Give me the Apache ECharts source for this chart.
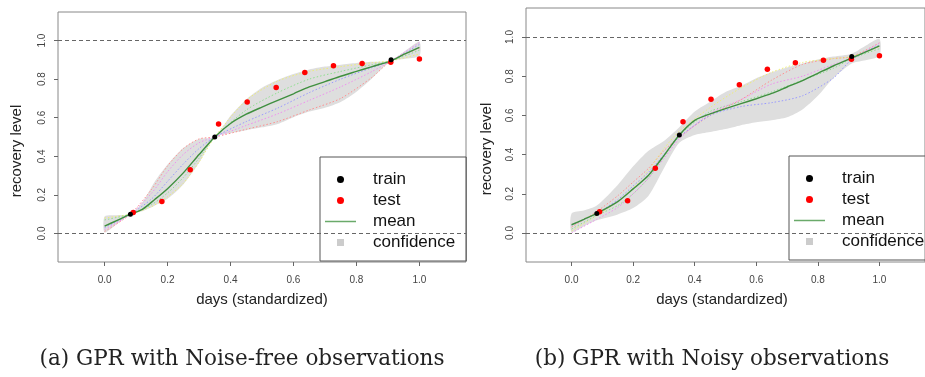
<!DOCTYPE html>
<html>
<head>
<meta charset="utf-8">
<script src="https://cdn.jsdelivr.net/npm/echarts@6/dist/echarts.min.js"></script>
<style>
  html, body { margin: 0; padding: 0; background: #fff; }
  #chart { width: 925px; height: 377px; }
</style>
</head>
<body>
<div id="chart"></div>
<script>
// ticks (same on both axes, both panels)
var tickValues = [0, 0.2, 0.4, 0.6, 0.8, 1.0];
var tickLabels = ['0.0', '0.2', '0.4', '0.6', '0.8', '1.0'];

// observations
var trainX = [0.082, 0.35, 0.91];
var trainY = [0.1, 0.5, 0.9];
var testX = [0.091, 0.182, 0.272, 0.362, 0.453, 0.545, 0.636, 0.727, 0.818, 0.909, 1.0];
var testY = [0.108, 0.165, 0.33, 0.567, 0.682, 0.756, 0.835, 0.869, 0.881, 0.887, 0.904];

// (a) noise-free: mean and confidence band
var leftX     = [0, 0.04, 0.082, 0.12, 0.16, 0.2, 0.25, 0.3, 0.35, 0.4, 0.45, 0.5, 0.55, 0.6, 0.65, 0.7, 0.75, 0.8, 0.85, 0.91, 0.95, 1.0];
var leftMean  = [0.038, 0.068, 0.1, 0.125, 0.177, 0.232, 0.314, 0.409, 0.5, 0.57, 0.618, 0.655, 0.69, 0.724, 0.76, 0.787, 0.815, 0.84, 0.865, 0.895, 0.928, 0.965];
var leftUpper = [0.088, 0.095, 0.1, 0.16, 0.27, 0.357, 0.443, 0.49, 0.5, 0.61, 0.695, 0.755, 0.795, 0.826, 0.85, 0.865, 0.875, 0.884, 0.89, 0.895, 0.94, 0.993];
var leftLower = [0.005, 0.05, 0.1, 0.115, 0.145, 0.18, 0.254, 0.366, 0.5, 0.52, 0.535, 0.55, 0.568, 0.603, 0.632, 0.652, 0.682, 0.735, 0.805, 0.895, 0.905, 0.92];

// (b) noisy: mean and confidence band
var rightX     = [0, 0.04, 0.082, 0.15, 0.2, 0.25, 0.3, 0.35, 0.4, 0.45, 0.5, 0.55, 0.6, 0.65, 0.7, 0.75, 0.8, 0.85, 0.91, 0.95, 1.0];
var rightMean  = [0.042, 0.07, 0.1, 0.16, 0.225, 0.295, 0.395, 0.5, 0.575, 0.608, 0.635, 0.66, 0.685, 0.712, 0.745, 0.778, 0.815, 0.852, 0.893, 0.92, 0.955];
var rightUpper = [0.1, 0.115, 0.14, 0.245, 0.34, 0.42, 0.47, 0.54, 0.62, 0.67, 0.72, 0.75, 0.79, 0.82, 0.845, 0.865, 0.885, 0.9, 0.915, 0.95, 0.99];
var rightLower = [0.005, 0.035, 0.065, 0.095, 0.127, 0.19, 0.33, 0.46, 0.5, 0.515, 0.53, 0.55, 0.565, 0.575, 0.59, 0.63, 0.7, 0.79, 0.865, 0.88, 0.905];

// posterior samples (dotted)
var sampleX = [0, 0.082, 0.15, 0.2, 0.25, 0.3, 0.35, 0.45, 0.55, 0.65, 0.75, 0.85, 0.91, 1.0];
var leftRed     = [0.01, 0.1, 0.23, 0.35, 0.44, 0.49, 0.5, 0.54, 0.58, 0.64, 0.70, 0.81, 0.895, 0.96];
var leftYellow  = [0.08, 0.1, 0.14, 0.19, 0.26, 0.37, 0.5, 0.69, 0.79, 0.84, 0.865, 0.885, 0.895, 0.93];
var leftGreen   = [0.07, 0.1, 0.15, 0.21, 0.29, 0.39, 0.5, 0.64, 0.73, 0.8, 0.84, 0.875, 0.895, 0.95];
var leftBlue    = [0.03, 0.1, 0.18, 0.27, 0.36, 0.44, 0.5, 0.58, 0.65, 0.73, 0.8, 0.86, 0.895, 0.98];
var leftMagenta = [0.02, 0.1, 0.21, 0.32, 0.41, 0.47, 0.5, 0.56, 0.62, 0.69, 0.76, 0.84, 0.895, 0.99];
var rightRed     = [0.03, 0.11, 0.19, 0.26, 0.33, 0.42, 0.49, 0.60, 0.68, 0.78, 0.86, 0.89, 0.90, 0.97];
var rightYellow  = [0.01, 0.09, 0.16, 0.23, 0.32, 0.43, 0.52, 0.64, 0.74, 0.82, 0.87, 0.89, 0.90, 0.95];
var rightGreen   = [0.02, 0.09, 0.14, 0.20, 0.28, 0.39, 0.50, 0.62, 0.67, 0.72, 0.78, 0.84, 0.89, 0.94];
var rightBlue    = [0.04, 0.10, 0.17, 0.24, 0.31, 0.40, 0.49, 0.60, 0.645, 0.665, 0.70, 0.79, 0.885, 0.96];
var rightMagenta = [0.00, 0.07, 0.13, 0.20, 0.28, 0.38, 0.48, 0.61, 0.68, 0.76, 0.80, 0.86, 0.89, 0.97];

var sampleColors = ['#ff9090', '#eeee77', '#90e090', '#9a9aff', '#f090f0'];
var meanColor = '#3f8f3f';
var bandColor = '#dedede';
var font = '"Liberation Sans", Arial, sans-serif';

function pairs(xs, ys) {
  return xs.map(function (x, i) { return [x, ys[i]]; });
}

// whole band drawn once as one polygon: upper edge left->right, lower edge back
function renderBand(params, api) {
  if (params.dataIndexInside !== 0) return null;
  var n = params.dataInsideLength;
  var upperPts = [], lowerPts = [];
  for (var i = 0; i < n; i++) {
    upperPts.push(api.coord([api.value(0, i), api.value(2, i)]));
    lowerPts.push(api.coord([api.value(0, i), api.value(1, i)]));
  }
  return {
    type: 'polygon',
    shape: { points: upperPts.concat(lowerPts.reverse()), smooth: 0.25 },
    style: { fill: bandColor, stroke: null }
  };
}

function panelSeries(p, xs, mean, lower, upper, samples) {
  var s = [];
  s.push({
    type: 'custom', name: 'confidence', xAxisIndex: p, yAxisIndex: p,
    data: xs.map(function (x, i) { return [x, lower[i], upper[i]]; }),
    encode: { x: 0, y: [1, 2] },
    renderItem: renderBand, silent: true, z: 1,
    itemStyle: { color: '#cccccc' }
  });
  samples.forEach(function (ys, k) {
    s.push({
      type: 'line', name: 'sample' + k, xAxisIndex: p, yAxisIndex: p,
      data: pairs(sampleX, ys), smooth: 0.25, symbol: 'none', silent: true, z: 2,
      lineStyle: { color: sampleColors[k], width: 1, type: [1.5, 2] }
    });
  });
  s.push({
    type: 'line', name: 'mean', xAxisIndex: p, yAxisIndex: p,
    data: pairs(xs, mean), smooth: 0.25, symbol: 'none', z: 3,
    lineStyle: { color: meanColor, width: 1.4 },
    itemStyle: { color: meanColor },
    markLine: {
      silent: true, symbol: 'none', label: { show: false },
      lineStyle: { color: '#666', width: 1, type: [4, 3] },
      data: [{ yAxis: 0 }, { yAxis: 1 }]
    }
  });
  s.push({
    type: 'scatter', name: 'train', xAxisIndex: p, yAxisIndex: p,
    data: pairs(trainX, trainY), symbolSize: 5, z: 5,
    itemStyle: { color: '#000000', opacity: 1 }
  });
  s.push({
    type: 'scatter', name: 'test', xAxisIndex: p, yAxisIndex: p,
    data: pairs(testX, testY), symbolSize: 5.5, z: 4,
    itemStyle: { color: '#ff0000', opacity: 1 }
  });
  return s;
}

function tickFmt(v) {
  var i = tickValues.indexOf(Math.round(v * 10) / 10);
  return i >= 0 ? tickLabels[i] : '';
}

function axis(p, dir) {
  return {
    type: 'value', gridIndex: p,
    min: -0.148, max: 1.148,
    splitLine: { show: false },
    axisLine: { show: false, onZero: false },
    axisTick: { show: true, length: 4, customValues: tickValues, lineStyle: { color: '#666' } },
    axisLabel: {
      customValues: tickValues, formatter: tickFmt,
      fontSize: 10, color: '#444', fontFamily: font,
      margin: dir === 'x' ? 13 : 11,
      rotate: dir === 'x' ? 0 : 90
    }
  };
}

function legend(left, top) {
  return {
    left: left, top: top, orient: 'vertical',
    itemWidth: 31, itemHeight: 7, itemGap: 2,
    symbolKeepAspect: true,
    borderColor: '#555', borderWidth: 1, borderRadius: 0,
    padding: [13, 11, 9, 5],
    selectedMode: false,
    textStyle: { fontSize: 17, lineHeight: 19, color: '#111', fontFamily: font, padding: [0, 0, 0, 12] },
    data: [
      { name: 'train', icon: 'path://M5,0A5,5,0,1,1,4.99,0Z', itemStyle: { color: '#000' } },
      { name: 'test', icon: 'path://M5,0A5,5,0,1,1,4.99,0Z', itemStyle: { color: '#ff0000' } },
      { name: 'mean', icon: 'path://M0,0L62,0L62,3L0,3Z', itemStyle: { color: '#6aaa6a' } },
      { name: 'confidence', icon: 'path://M0,0L10,0L10,10L0,10Z', itemStyle: { color: '#cccccc' } }
    ]
  };
}

function label(text, x, y, rot, size, fam) {
  return {
    type: 'text', x: x, y: y, rotation: rot || 0, silent: true,
    style: { text: text, font: size + 'px ' + (fam || font), fill: '#222', align: 'center', verticalAlign: 'middle' }
  };
}

var chart = echarts.init(document.getElementById('chart'));
var option = {
  animation: false,
  backgroundColor: '#fff',
  grid: [
    { left: 58, top: 12, width: 408, height: 250, show: true, borderColor: '#888', borderWidth: 1 },
    { left: 526, top: 8, width: 411, height: 254, show: true, borderColor: '#888', borderWidth: 1 }
  ],
  xAxis: [axis(0, 'x'), axis(1, 'x')],
  yAxis: [axis(0, 'y'), axis(1, 'y')],
  legend: [legend(320, 157), legend(789, 156)],
  series: panelSeries(0, leftX, leftMean, leftLower, leftUpper,
      [leftRed, leftYellow, leftGreen, leftBlue, leftMagenta])
    .concat(panelSeries(1, rightX, rightMean, rightLower, rightUpper,
      [rightRed, rightYellow, rightGreen, rightBlue, rightMagenta])),
  graphic: [
    label('recovery level', 17, 151, Math.PI / 2, 15),
    label('days (standardized)', 262, 300, 0, 15),
    label('recovery level', 487, 149, Math.PI / 2, 15),
    label('days (standardized)', 722, 300, 0, 15),
    label('(a) GPR with Noise-free observations', 242, 359, 0, 21.5, '"DejaVu Serif", serif'),
    label('(b) GPR with Noisy observations', 712, 359, 0, 21.5, '"DejaVu Serif", serif')
  ]
};
chart.setOption(option);
</script>
</body>
</html>
